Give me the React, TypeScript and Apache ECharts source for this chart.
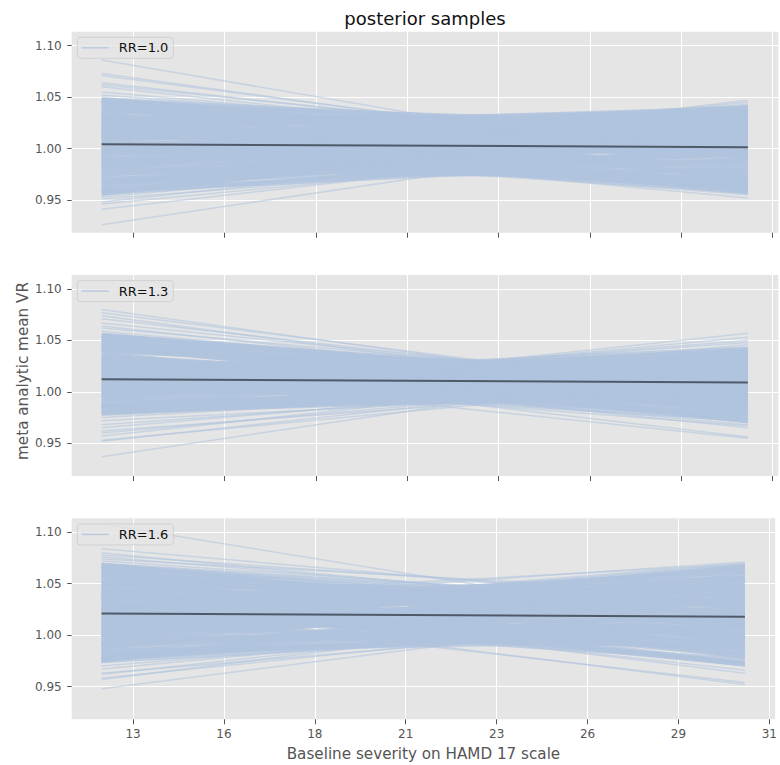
import React, { useEffect, useRef } from 'react';
import * as echarts from 'echarts';

// x positions at which each posterior sample line is evaluated
const SAMPLE_X: [number, number] = [12.1, 30.5];

// axis ticks (labels are the rounded tick values)
const X_TICKS = [13, 15.6, 18.2, 20.8, 23.4, 26, 28.6, 31.2];
const Y_TICKS = [0.95, 1.0, 1.05, 1.1];
const X_RANGE: [number, number] = [11.246, 31.366];
const Y_RANGE: [number, number] = [0.9182, 1.1136];

const PANEL_LABELS = ['RR=1.0', 'RR=1.3', 'RR=1.6'];

// posterior mean line [value at start, value at end]
const MEAN_RR10: [number, number] = [1.0042, 1.0013];
const MEAN_RR13: [number, number] = [1.0123, 1.0091];
const MEAN_RR16: [number, number] = [1.0211, 1.0179];

// posterior samples, [value at start, value at end] — bulk of the samples
const CORE_RR10: [number, number][] = [
  [1.047, 1.017], [1.024, 1.036], [1.019, 1.039], [1.034, 1.024], [1.008, 1.038],
  [1.047, 1.007], [0.995, 1.040], [1.046, 0.996], [1.015, 1.015], [0.981, 1.036],
  [1.044, 0.984], [0.997, 1.017], [1.019, 0.994], [0.966, 1.031], [1.040, 0.970],
  [0.975, 1.015], [1.019, 0.979], [0.957, 1.022], [1.034, 0.959], [0.984, 0.994],
  [0.960, 1.010], [1.017, 0.962], [0.967, 0.997], [0.999, 0.969], [0.957, 0.997],
  [1.001, 0.961], [0.970, 0.980], [0.981, 0.971], [0.959, 0.989], [0.997, 0.962],
  [1.037, 1.017], [1.016, 1.026], [0.997, 1.032], [1.030, 1.000], [0.982, 1.027],
  [1.030, 0.980], [0.999, 0.999], [0.964, 1.019], [1.000, 0.985], [0.976, 0.996],
  [1.014, 0.959], [1.029, 1.029], [1.031, 1.011], [1.004, 1.014], [0.986, 1.011],
  [1.018, 0.973], [0.982, 0.987], [0.985, 1.020], [1.047, 0.992], [0.956, 1.030],
  [1.010, 1.040], [1.027, 0.962], [0.995, 1.025], [1.012, 1.002], [1.008, 0.958],
  [0.989, 1.000], [0.991, 0.966], [0.993, 1.036], [0.972, 1.006], [1.021, 0.966],
  [1.022, 1.004], [1.042, 1.000], [0.962, 1.024], [1.006, 0.965], [0.979, 0.976],
  [1.026, 0.990], [1.002, 1.005], [0.969, 1.013], [1.038, 1.004], [1.011, 1.021],
  [0.988, 1.033], [1.043, 1.022], [1.024, 0.975],
];
// the scattered outlying samples
const TAIL_RR10: [number, number][] = [
  [1.086, 0.979], [1.073, 0.986], [1.071, 0.990], [1.064, 0.994], [1.062, 0.998],
  [1.060, 0.992], [1.055, 1.000], [1.052, 1.004], [1.050, 0.996], [0.926, 1.019],
  [0.941, 1.012], [0.946, 1.006], [0.948, 1.016], [0.951, 1.000], [0.953, 1.010],
  [0.972, 1.047], [0.985, 1.045], [0.990, 1.043], [1.000, 1.041], [1.011, 0.952],
  [1.005, 0.955], [1.020, 0.956], [0.998, 0.957],
];

const CORE_RR13: [number, number][] = [
  [1.054, 1.009], [1.012, 1.042], [1.028, 1.028], [1.041, 1.016], [1.018, 1.033],
  [1.055, 1.000], [0.999, 1.039], [1.026, 1.016], [1.052, 0.992], [1.002, 1.027],
  [0.986, 1.036], [1.035, 0.995], [1.007, 1.012], [1.045, 0.980], [0.981, 1.026],
  [1.015, 0.995], [0.985, 1.015], [1.037, 0.972], [0.987, 1.007], [1.021, 0.976],
  [0.980, 1.005], [1.009, 0.979], [0.985, 0.995], [1.013, 0.973], [0.981, 0.999],
  [1.011, 1.036], [1.041, 1.006], [1.011, 1.021], [1.021, 1.006], [0.986, 1.026],
  [1.033, 0.983], [1.001, 1.001], [1.003, 0.993], [0.990, 0.995], [0.999, 1.034],
  [1.051, 0.981], [0.999, 1.014], [1.023, 0.988], [0.979, 1.007], [1.018, 1.013],
  [1.023, 1.023], [1.055, 1.005], [0.980, 1.015], [1.046, 0.986], [0.995, 1.040],
  [1.032, 0.972], [0.998, 1.018], [1.033, 1.003], [1.005, 0.985], [1.006, 1.041],
  [0.992, 1.030], [1.043, 0.990], [1.048, 1.012], [0.993, 0.990], [1.029, 0.977],
  [1.017, 1.031], [0.983, 1.020], [1.039, 1.022], [1.008, 0.990], [0.996, 1.010],
  [1.025, 0.998], [1.049, 0.995], [1.015, 1.038],
];
const TAIL_RR13: [number, number][] = [
  [1.080, 0.993], [1.077, 0.998], [1.074, 0.990], [1.071, 1.000], [1.067, 1.003],
  [1.064, 0.996], [1.062, 1.006], [1.059, 1.002], [0.937, 1.030], [0.952, 1.020],
  [0.953, 1.012], [0.957, 1.025], [0.960, 1.015], [0.962, 1.008], [0.965, 1.018],
  [0.968, 1.012], [0.972, 1.004], [0.975, 1.010], [0.990, 1.057], [0.995, 1.053],
  [1.000, 1.050], [1.003, 1.048], [0.985, 1.046], [1.030, 0.956], [1.020, 0.955],
  [1.030, 0.965], [1.015, 0.967], [1.025, 0.968],
];

const CORE_RR16: [number, number][] = [
  [1.068, 1.028], [1.017, 1.067], [1.044, 1.044], [1.057, 1.032], [1.025, 1.055],
  [1.068, 1.018], [1.004, 1.064], [1.042, 1.032], [1.068, 1.008], [1.024, 1.039],
  [0.991, 1.061], [1.048, 1.013], [1.003, 1.043], [1.064, 0.994], [1.019, 1.024],
  [0.975, 1.055], [1.043, 0.998], [1.002, 1.027], [1.059, 0.979], [0.981, 1.036],
  [1.021, 1.001], [0.991, 1.021], [1.040, 0.980], [0.979, 1.024], [1.022, 0.987],
  [0.994, 1.004], [1.032, 0.972], [0.979, 1.009], [1.000, 0.990], [1.016, 0.976],
  [0.982, 1.002], [1.029, 1.049], [1.010, 1.055], [1.038, 1.023], [0.988, 1.053],
  [1.051, 0.996], [1.015, 1.015], [0.976, 1.036], [1.047, 0.972], [0.977, 1.017],
  [1.008, 0.988], [1.061, 1.021], [1.000, 1.050], [0.998, 1.033], [1.040, 0.990],
  [0.994, 1.009], [1.013, 1.033], [1.058, 1.008], [1.011, 1.006], [0.975, 1.010],
  [1.011, 1.066], [1.038, 0.972], [0.985, 1.040], [1.054, 0.983], [1.035, 1.046],
  [1.027, 0.984], [1.066, 1.012], [0.996, 1.058], [1.050, 1.040], [0.985, 0.996],
  [1.026, 1.062], [1.006, 1.047], [1.053, 1.028], [1.033, 0.993], [0.990, 1.012],
  [1.062, 1.000], [1.036, 1.055],
];
const TAIL_RR16: [number, number][] = [
  [1.108, 1.007], [1.084, 1.030], [1.080, 1.020], [1.078, 1.035], [1.076, 1.025],
  [1.074, 1.040], [1.072, 1.030], [0.948, 1.027], [0.957, 1.035], [0.958, 1.022],
  [0.962, 1.030], [0.963, 1.015], [0.967, 1.025], [0.970, 1.020], [1.029, 1.071],
  [1.020, 1.070], [1.035, 1.069], [1.010, 1.068], [1.030, 0.952], [1.025, 0.954],
  [1.040, 0.963], [1.035, 0.966],
];

const MEANS = [MEAN_RR10, MEAN_RR13, MEAN_RR16];
const CORES = [CORE_RR10, CORE_RR13, CORE_RR16];
const TAILS = [TAIL_RR10, TAIL_RR13, TAIL_RR16];

// layout
const GRID_LEFT = 71.7;
const GRID_WIDTH = 706.6;
const GRID_HEIGHT = 201;
const GRID_TOPS = [31.7, 275, 518.3];
const FONT = 'DejaVu Sans';
const SAMPLE_COLOR = '#B0C4DE';

function toLines(pairs: [number, number][]) {
  return pairs.map(([s, e]) => ({ coords: [[SAMPLE_X[0], s], [SAMPLE_X[1], e]] }));
}

function buildOption(): any {
  const grids = GRID_TOPS.map((top) => ({
    left: GRID_LEFT,
    top,
    width: GRID_WIDTH,
    height: GRID_HEIGHT,
    show: true,
    backgroundColor: '#E5E5E5',
    borderWidth: 0,
  }));

  const xAxes = GRID_TOPS.map((_, i) => ({
    type: 'value',
    gridIndex: i,
    min: X_RANGE[0],
    max: X_RANGE[1],
    axisLine: { show: false },
    axisTick: {
      show: true,
      customValues: X_TICKS,
      length: 5,
      lineStyle: { color: '#555555', width: 1 },
    },
    axisLabel: {
      show: i === 2,
      customValues: X_TICKS,
      formatter: (v: number) => String(Math.round(v)),
      color: '#555555',
      fontSize: 12,
      fontFamily: FONT,
      margin: 9,
    },
    splitLine: { show: true, lineStyle: { color: '#ffffff', width: 1 } },
    name: i === 2 ? 'Baseline severity on HAMD 17 scale' : '',
    nameLocation: 'middle',
    nameGap: 27,
    nameTextStyle: { fontSize: 15.2, color: '#555555', fontFamily: FONT },
  }));

  const yAxes = GRID_TOPS.map((_, i) => ({
    type: 'value',
    gridIndex: i,
    min: Y_RANGE[0],
    max: Y_RANGE[1],
    axisLine: { show: false },
    axisTick: {
      show: true,
      customValues: Y_TICKS,
      length: 4.5,
      lineStyle: { color: '#555555', width: 1 },
    },
    axisLabel: {
      show: true,
      customValues: Y_TICKS,
      formatter: (v: number) => v.toFixed(2),
      color: '#555555',
      fontSize: 12,
      fontFamily: FONT,
      margin: 10,
    },
    splitLine: { show: true, lineStyle: { color: '#ffffff', width: 1 } },
  }));

  const series: any[] = [];
  GRID_TOPS.forEach((_, i) => {
    series.push({
      type: 'lines',
      name: PANEL_LABELS[i],
      coordinateSystem: 'cartesian2d',
      xAxisIndex: i,
      yAxisIndex: i,
      polyline: false,
      silent: true,
      z: 2,
      lineStyle: { color: SAMPLE_COLOR, width: 1.5, opacity: 0.55 },
      data: toLines(TAILS[i]),
    });
    series.push({
      type: 'lines',
      name: PANEL_LABELS[i],
      coordinateSystem: 'cartesian2d',
      xAxisIndex: i,
      yAxisIndex: i,
      polyline: false,
      silent: true,
      z: 3,
      lineStyle: { color: SAMPLE_COLOR, width: 5, opacity: 0.72 },
      data: toLines(CORES[i]),
    });
    series.push({
      type: 'line',
      name: 'mean ' + PANEL_LABELS[i],
      xAxisIndex: i,
      yAxisIndex: i,
      silent: true,
      z: 5,
      symbol: 'none',
      showSymbol: false,
      lineStyle: { color: '#4f5a68', width: 2 },
      data: [[SAMPLE_X[0], MEANS[i][0]], [SAMPLE_X[1], MEANS[i][1]]],
    });
  });

  const legends = GRID_TOPS.map((top, i) => ({
    data: [
      {
        name: PANEL_LABELS[i],
        icon: 'rect',
        itemStyle: { color: 'rgba(176,196,222,0.8)', borderWidth: 0 },
      },
    ],
    left: 77.3,
    top: top + 5.6,
    orient: 'horizontal',
    itemWidth: 27,
    itemHeight: 1.5,
    padding: [4, 5, 4, 4.4],
    backgroundColor: 'rgba(229,229,229,0.8)',
    borderColor: 'rgba(204,204,204,0.8)',
    borderWidth: 1,
    borderRadius: 3,
    selectedMode: false,
    itemStyle: { borderWidth: 0 },
    lineStyle: { width: 0 },
    textStyle: { fontSize: 13, color: '#111111', fontFamily: FONT, padding: [0, 0, 0, 5] },
  }));

  return {
    animation: false,
    backgroundColor: '#ffffff',
    textStyle: { fontFamily: FONT },
    grid: grids,
    xAxis: xAxes,
    yAxis: yAxes,
    legend: legends,
    series,
    graphic: [
      {
        type: 'text',
        x: 425,
        y: 18.3,
        silent: true,
        style: {
          text: 'posterior samples',
          fontSize: 18,
          fontFamily: FONT,
          fill: '#111111',
          align: 'center',
          verticalAlign: 'middle',
        },
      },
      {
        type: 'text',
        x: 22.7,
        y: 371,
        rotation: Math.PI / 2,
        silent: true,
        style: {
          text: 'meta analytic mean VR',
          fontSize: 15.2,
          fontFamily: FONT,
          fill: '#555555',
          align: 'center',
          verticalAlign: 'middle',
        },
      },
    ],
  };
}

export default function App() {
  const ref = useRef<HTMLDivElement>(null);
  useEffect(() => {
    if (!ref.current) return;
    const chart = echarts.init(ref.current, null, { renderer: 'svg' });
    chart.setOption(buildOption());
    return () => {
      chart.dispose();
    };
  }, []);
  return (
    <div
      ref={ref}
      style={{ position: 'fixed', left: 0, top: 0, width: 780, height: 765, background: '#ffffff' }}
    />
  );
}
